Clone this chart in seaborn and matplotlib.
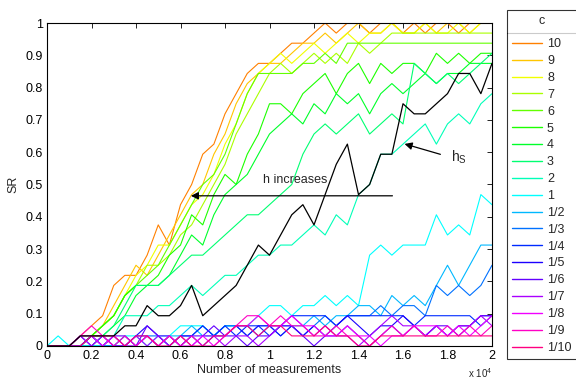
import numpy as np
import pandas as pd
import matplotlib
matplotlib.use('Agg')
import matplotlib.pyplot as plt
import matplotlib.colors as mcolors
from matplotlib.lines import Line2D
from matplotlib.ticker import FuncFormatter, MultipleLocator
import seaborn as sns

# ---- data (SR values read as counts out of 32, sampled every 500 measurements) ----
measurements = np.arange(0, 20001, 500)
DENOM = 32
c_labels = ['10', '9', '8', '7', '6', '5', '4', '3', '2', '1',
            '1/2', '1/3', '1/4', '1/5', '1/6', '1/7', '1/8', '1/9', '1/10']

sr_10 = [0,0,0,1,2,3,6,7,7,9,12,10,14,16,19,20,23,25,27,28,28,29,30,30,31,32,31,32,32,31,32,32,31,32,31,32,32,31,32,32,32]
sr_9 = [0,0,0,0,1,2,4,6,8,7,9,11,13,15,16,19,21,24,26,27,28,28,29,30,30,31,30,31,32,31,31,32,31,31,32,31,32,32,31,32,32]
sr_8 = [0,0,0,0,1,2,3,5,7,8,10,10,12,14,15,17,20,22,25,27,28,29,28,29,30,29,30,31,30,31,31,32,31,31,32,31,31,32,31,32,32]
sr_7 = [0,0,0,0,1,2,3,5,6,8,8,9,11,12,14,16,18,21,23,25,27,28,27,28,29,28,29,28,30,29,30,31,31,31,31,31,31,31,31,31,31]
sr_6 = [0,0,0,1,1,2,3,5,6,7,8,10,12,14,16,17,19,22,25,27,27,27,27,28,28,29,28,30,30,30,30,30,30,30,30,30,30,30,30,30,30]
sr_5 = [0,0,0,0,1,2,3,5,6,6,7,9,10,13,12,15,17,16,19,21,24,24,23,25,26,27,25,27,28,26,28,27,28,28,27,29,28,29,28,29,29]
sr_4 = [0,0,0,0,1,1,2,3,5,6,6,7,9,11,10,13,15,16,17,19,21,22,23,22,24,23,25,24,25,23,25,26,25,26,27,26,27,27,28,28,28]
sr_3 = [0,0,0,0,0,1,2,4,6,6,6,7,8,9,9,10,11,12,13,13,14,15,16,19,21,22,21,22,23,21,22,23,22,28,27,26,27,26,27,28,29]
sr_2 = [0,0,0,0,0,0,1,3,3,3,4,4,5,6,5,6,7,7,8,9,9,10,10,11,12,11,13,12,15,16,19,19,20,21,22,20,22,23,22,24,25]
sr_1 = [0,1,0,0,0,0,0,1,1,0,1,1,2,2,2,1,2,2,2,3,4,4,3,4,4,5,4,5,4,9,10,9,10,10,10,13,11,12,11,15,14]
sr_1_2 = [0,0,0,0,0,0,0,0,0,1,0,1,1,2,1,1,2,2,1,2,2,1,2,2,3,2,3,3,4,4,3,5,4,5,4,6,8,6,8,10,10]
sr_1_3 = [0,0,0,0,1,0,0,1,0,1,1,0,1,1,2,1,2,2,2,1,2,2,2,1,2,3,2,3,3,3,4,3,4,4,3,6,5,6,5,6,8]
sr_1_4 = [0,0,0,0,1,0,1,0,1,1,0,1,0,1,2,1,2,1,2,2,1,2,3,3,3,3,2,3,3,3,3,3,3,2,3,3,3,3,3,2,3]
sr_1_5 = [0,0,0,1,0,1,0,0,1,2,1,0,1,1,0,1,1,2,1,2,2,1,2,1,2,1,2,3,2,1,2,2,3,2,1,2,1,2,2,3,3]
sr_1_6 = [0,0,0,0,1,0,1,1,0,2,1,1,0,1,1,2,1,1,0,1,1,2,2,1,0,1,1,2,1,0,1,2,1,2,1,2,2,1,2,3,3]
sr_1_7 = [0,0,0,1,0,1,0,0,1,0,1,0,1,0,1,1,0,1,1,0,1,2,3,2,1,2,1,1,0,1,2,3,2,2,1,2,1,2,2,3,2]
sr_1_8 = [0,0,0,1,1,0,1,0,0,1,0,1,0,0,1,0,1,2,2,3,2,2,3,2,2,1,1,2,1,1,0,1,1,2,2,2,1,2,1,2,3]
sr_1_9 = [0,0,0,1,2,1,0,1,0,1,0,1,0,1,0,0,1,2,3,3,2,3,2,2,1,1,2,1,1,0,1,2,1,2,1,1,2,1,2,1,2]
sr_1_10 = [0,0,0,0,1,1,1,0,1,1,0,0,1,0,0,1,1,2,2,1,2,2,1,1,1,2,1,1,0,0,1,1,1,1,1,1,1,1,1,1,1]
sr_hs = [0,0,0,1,1,1,1,2,2,4,3,3,4,6,3,4,5,6,8,10,9,11,13,14,12,15,18,20,15,16,19,19,24,23,23,24,25,27,27,25,28]

series = [sr_10, sr_9, sr_8, sr_7, sr_6, sr_5, sr_4, sr_3, sr_2, sr_1,
          sr_1_2, sr_1_3, sr_1_4, sr_1_5, sr_1_6, sr_1_7, sr_1_8, sr_1_9, sr_1_10]

frames = []
for lab, vals in zip(c_labels, series):
    frames.append(pd.DataFrame({'x': measurements, 'SR': np.array(vals) / DENOM, 'c': lab}))
df = pd.concat(frames, ignore_index=True)
df_hs = pd.DataFrame({'x': measurements, 'SR': np.array(sr_hs) / DENOM})

# ---- style ----
sns.set_theme(style='white')
plt.rcParams['font.family'] = ['Liberation Sans', 'DejaVu Sans']
plt.rcParams['mathtext.fontset'] = 'custom'
plt.rcParams['mathtext.rm'] = 'Liberation Sans'
plt.rcParams['mathtext.it'] = 'Liberation Sans'

FS = 9
colors = [mcolors.hsv_to_rgb((h / 360.0, 1.0, 1.0)) for h in np.linspace(30, 330, len(c_labels))]

fig = plt.figure(figsize=(5.76, 3.81), dpi=100)
ax = fig.add_axes([47 / 576, 35 / 381, 445 / 576, 323 / 381])

sns.lineplot(data=df, x='x', y='SR', hue='c', hue_order=c_labels, palette=colors,
             estimator=None, sort=False, lw=0.8, ax=ax, legend=True)
sns.lineplot(data=df_hs, x='x', y='SR', color='black', estimator=None, sort=False,
             lw=0.9, ax=ax, legend=False)

ax.set_xlim(0, 20000)
ax.set_ylim(0, 1)
ax.xaxis.set_major_locator(MultipleLocator(2000))
ax.yaxis.set_major_locator(MultipleLocator(0.1))
ax.xaxis.set_major_formatter(FuncFormatter(lambda v, p: f'{v / 1e4:g}'))
ax.yaxis.set_major_formatter(FuncFormatter(lambda v, p: f'{v:g}'))
ax.tick_params(direction='in', top=True, right=True, length=3.5, width=0.6,
               labelsize=FS, colors='black', pad=3)
for s in ax.spines.values():
    s.set_color('black')
    s.set_linewidth(0.8)
ax.set_xlabel('Number of measurements', fontsize=FS, labelpad=1)
ax.set_ylabel('SR', fontsize=FS, labelpad=4)
ax.text(1.0, -0.1, r'x 10$^{4}$', transform=ax.transAxes, ha='right', va='baseline', fontsize=7)

# annotations
ax.annotate('', xy=(6340, 0.465), xytext=(15650, 0.465),
            arrowprops=dict(arrowstyle='-|>', color='black', lw=0.9, mutation_scale=11))
ax.text(11150, 0.515, 'h increases', ha='center', va='center', fontsize=FS)
ax.annotate('', xy=(15950, 0.628), xytext=(17800, 0.591),
            arrowprops=dict(arrowstyle='-|>', color='black', lw=0.9, mutation_scale=11))
ax.text(18500, 0.585, r'h$_{\rm S}$', ha='center', va='center', fontsize=FS + 1)

# legend
handles, labels = ax.get_legend_handles_labels()
if ax.get_legend() is not None:
    ax.get_legend().remove()
leg = fig.legend(handles, labels, title='c', loc='upper left',
                 bbox_to_anchor=(507 / 576, 1 - 10 / 381), frameon=True, fancybox=False,
                 edgecolor='black', fontsize=FS, title_fontsize=FS,
                 handlelength=2.4, handletextpad=0.4, labelspacing=0.39,
                 borderpad=0.4, borderaxespad=0)
leg.get_frame().set_linewidth(0.8)
for h in leg.get_lines():
    h.set_linewidth(1.0)
# extra gap between the title header and the entries
try:
    leg._legend_box.sep = leg._legend_box.sep + 4.5
except Exception:
    pass

fig.canvas.draw()
fb = leg.get_frame().get_window_extent()
tb = leg.get_title().get_window_extent()
first = leg.get_texts()[0].get_window_extent()
ymid = 0.5 * (tb.y0 + first.y1) / fig.bbox.height
fig.add_artist(Line2D([fb.x0 / fig.bbox.width, fb.x1 / fig.bbox.width], [ymid, ymid],
                      transform=fig.transFigure, color='black', lw=0.8))

fig.savefig('out.png', dpi=100)
